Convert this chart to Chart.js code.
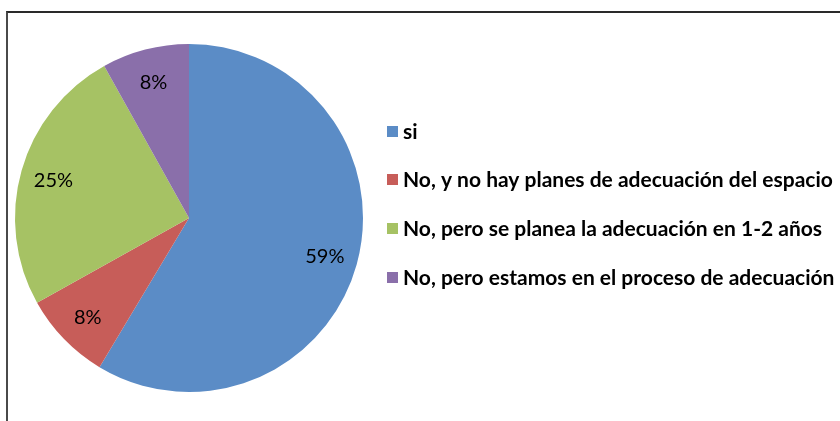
<!DOCTYPE html>
<html>
<head>
<meta charset="utf-8">
<script src="https://cdn.jsdelivr.net/npm/chart.js@4/dist/chart.umd.min.js"></script>
<style>
  html, body { margin: 0; padding: 0; background: #ffffff; }
  #wrap { position: relative; width: 840px; height: 421px; overflow: hidden; background: #fff; }
  #frame { position: absolute; left: 6px; top: 11px; width: 900px; height: 500px;
           border-top: 2px solid #2a2a2a; border-left: 2px solid #4a4a4a; box-sizing: border-box; }
  canvas { position: absolute; left: 0; top: 0; }
</style>
</head>
<body>
<div id="wrap">
  <div id="frame"></div>
  <canvas id="c" width="840" height="421"></canvas>
</div>
<script>
const categories = [
  "si",
  "No, y no hay planes de adecuación del espacio",
  "No, pero se planea la adecuación en 1-2 años",
  "No, pero estamos en el proceso de adecuación"
];
const values = [58.6, 8.3, 25.0, 8.1];
const colors = ["#5B8CC6", "#C75D59", "#A6C264", "#8A6FAA"];

const FONT = "Lato, 'Open Sans', sans-serif";

const sliceLabels = {
  id: 'sliceLabels',
  afterDatasetsDraw(chart) {
    const ctx = chart.ctx;
    const meta = chart.getDatasetMeta(0);
    const data = chart.data.datasets[0].data;
    const total = data.reduce((a, b) => a + b, 0);
    ctx.save();
    ctx.font = "20px " + FONT;
    ctx.fillStyle = "#000";
    ctx.textAlign = "center";
    ctx.textBaseline = "middle";
    meta.data.forEach((arc, i) => {
      const p = arc.getProps(['x', 'y', 'startAngle', 'endAngle', 'outerRadius'], true);
      const mid = (p.startAngle + p.endAngle) / 2;
      const r = p.outerRadius * 0.81;
      const txt = Math.round(data[i] / total * 100) + "%";
      ctx.fillText(txt, p.x + Math.cos(mid) * r, p.y + Math.sin(mid) * r + 1);
    });
    ctx.restore();
  }
};

const sideLegend = {
  id: 'sideLegend',
  afterDraw(chart) {
    const ctx = chart.ctx;
    const labels = chart.data.labels;
    const bg = chart.data.datasets[0].backgroundColor;
    ctx.save();
    ctx.font = "bold 21px " + FONT;
    ctx.textBaseline = "middle";
    ctx.textAlign = "left";
    const x0 = 387, top = 131, step = 48.7, box = 11;
    labels.forEach((lab, i) => {
      const cy = top + i * step;
      ctx.fillStyle = bg[i];
      ctx.fillRect(x0, Math.round(cy - box / 2), box, box);
      ctx.fillStyle = "#000";
      ctx.fillText(lab, x0 + box + 5, cy + 1);
    });
    ctx.restore();
  }
};

new Chart(document.getElementById('c'), {
  type: 'pie',
  data: {
    labels: categories,
    datasets: [{
      data: values,
      backgroundColor: colors,
      borderWidth: 0
    }]
  },
  options: {
    responsive: false,
    animation: false,
    rotation: 0,
    layout: { padding: { left: 15, right: 477, top: 44, bottom: 29 } },
    plugins: {
      legend: { display: false },
      tooltip: { enabled: false }
    }
  },
  plugins: [sliceLabels, sideLegend]
});
</script>
</body>
</html>
